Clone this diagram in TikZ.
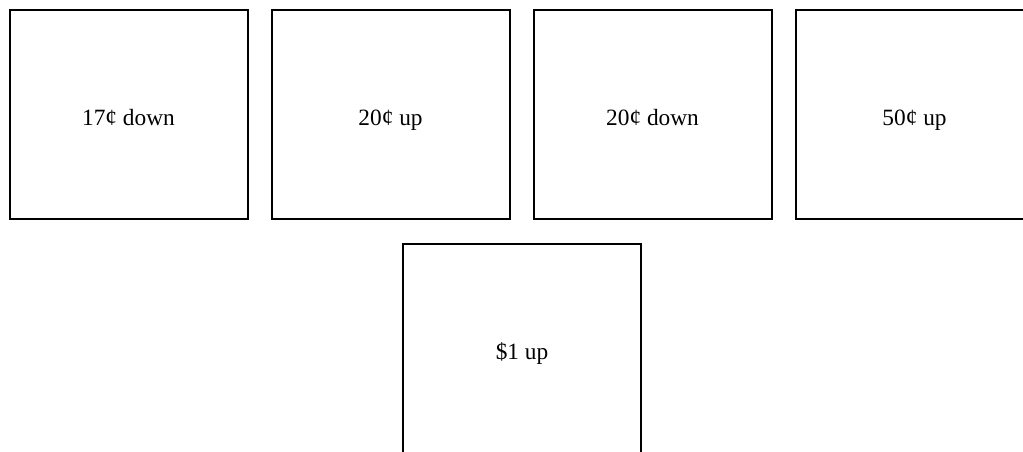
\documentclass[tikz,border=0pt]{standalone}
\usepackage{fontspec}
\setmainfont{Liberation Serif}
\tikzset{
    coinbox/.style={draw, line width=1.5pt, minimum width=178.5pt, minimum height=156.75pt, inner sep=0pt, text height=15.8pt, text depth=0pt, font=\fontsize{17.5}{20}\selectfont},
}
\begin{document}
\begin{tikzpicture}[x=0.75pt, y=-0.75pt]
        \useasboundingbox (0,0) rectangle (1023,451);

        \node[coinbox] (c17) at (128.5,114.5) {17¢ down};
        \node[coinbox] (c20u) at (390.5,114.5) {20¢ up};
        \node[coinbox] (c20d) at (652.5,114.5) {20¢ down};
        \node[coinbox] (c50) at (914.5,114.5) {50¢ up};

        \node[coinbox] (d1) at (522,348.5) {\$1 up};
    \end{tikzpicture}
\end{document}
